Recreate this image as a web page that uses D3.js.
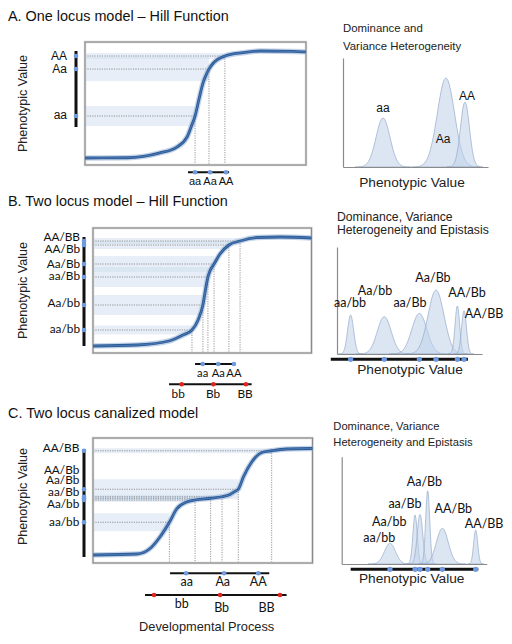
<!DOCTYPE html>
<html><head><meta charset="utf-8">
<script src="https://cdn.jsdelivr.net/npm/d3@7"></script>
<style>body{margin:0;background:#fff}svg{display:block}</style>
</head><body>
<svg id="chart" width="512" height="644"></svg>
<script>
// ================= DATA =================
// Panel A : one locus model
const genotypesA = ["aa", "Aa", "AA"];
const devA = [49.8, 56.1, 63.3];          // developmental position
const phenoA = [39.8, 78.0, 88.6];        // phenotypic value
const spreadA = [8.1, 9.8, 2.4];          // half width of variance band
const curveDevA = [0, 19.0, 33.9, 41.6, 46.2, 48.0, 49.8, 51.6, 53.4, 55.2, 56.1, 57.9, 59.7, 63.3, 71.5, 79.2, 94.1, 100];
const curvePhenoA = [5.7, 5.9, 9.8, 14.6, 22.8, 30.9, 39.8, 53.7, 66.7, 74.8, 78.0, 82.5, 85.4, 88.6, 91.3, 92.7, 92.3, 91.9];
const locusA_A = ["aa", "Aa", "AA"];
const locusADevA = [49.8, 56.6, 63.8];
const densMeanA = [27.6, 71.0, 84.1];
const densSdA = [4.8, 5.9, 3.1];
const densPeakA = [45.0, 81.7, 59.6];

// Panel B : two locus model
const genotypesB = ["aa/bb", "Aa/bb", "aa/Bb", "Aa/Bb", "AA/Bb", "AA/BB"];
const devB = [45.3, 50.3, 52.6, 55.4, 62.2, 67.3];
const phenoB = [18.4, 38.4, 60.8, 71.2, 86.4, 89.6];
const spreadB = [3.6, 8.0, 8.0, 6.4, 3.2, 2.4];
const curveDevB = [0, 20.1, 35.2, 41.2, 45.3, 48.1, 50.3, 51.7, 52.6, 53.5, 55.4, 58.1, 62.2, 67.3, 75.1, 85.6, 100];
const curvePhenoB = [5.6, 6.4, 9.8, 14.4, 18.4, 26.4, 38.4, 52.8, 60.8, 65.6, 71.2, 79.2, 86.4, 89.6, 92.4, 92.8, 92.0];
const locusA_B = ["aa", "Aa", "AA"];
const locusADevB = [50.2, 57.3, 64.5];
const locusB_B = ["bb", "Bb", "BB"];
const locusBDevB = [40.6, 55.1, 70.0];
const densMeanB = [9.4, 32.6, 56.8, 68.3, 83.0, 87.6];
const densSdB = [2.1, 4.8, 5.2, 5.5, 1.6, 1.7];
const densPeakB = [36.4, 34.9, 38.0, 59.8, 44.9, 40.5];

// Panel C : two locus canalized model
const genotypesC = ["aa/bb", "Aa/bb", "aa/Bb", "Aa/Bb", "AA/Bb", "AA/BB"];
const devC = [34.8, 46.5, 53.6, 58.8, 66.2, 81.4];
const phenoC = [32.6, 50.4, 51.8, 53.0, 59.0, 89.8];
const spreadC = [7.2, 1.6, 2.0, 1.6, 8.0, 2.0];
const curveDevC = [0, 20.0, 26.0, 30.5, 34.8, 38.1, 42.7, 46.5, 53.6, 58.8, 62.4, 64.2, 66.2, 68.5, 72.3, 76.9, 81.4, 88.2, 100];
const curvePhenoC = [6.4, 7.2, 11.6, 20.8, 32.6, 43.2, 48.8, 50.4, 51.8, 53.0, 54.8, 56.8, 59.0, 68.8, 80.8, 88.4, 89.8, 91.2, 91.6];
const locusA_C = ["aa", "Aa", "AA"];
const locusADevC = [42.4, 59.7, 75.3];
const locusB_C = ["bb", "Bb", "BB"];
const locusBDevC = [27.8, 57.9, 85.2];
const densMeanC = [33.3, 50.6, 54.0, 59.3, 69.4, 92.4];
const densSdC = [3.8, 1.5, 1.9, 1.4, 4.1, 1.4];
const densPeakC = [19.3, 45.7, 46.3, 68.3, 33.3, 31.7];

// ================= STYLE / LAYOUT =================
const SANS = "'Liberation Sans', Arial, sans-serif";
const HUM = "Lato, 'Open Sans', sans-serif";
const BAND = "#d0def0", CURVE = "#2c5b96", BLUE_DOT = "#6f9ae0", RED_DOT = "#e3231c";
const DENS_FILL = "#bfd1ea", DENS_STROKE = "#94a9c9";

const svg = d3.select("#chart");

function title(txt, x, y) {
  svg.append("text").attr("x", x).attr("y", y).attr("font-family", SANS)
    .attr("font-size", 14.4).attr("fill", "#111").text(txt);
}
title("A. One locus model \u2013 Hill Function", 8, 21);
title("B. Two locus model \u2013 Hill Function", 8, 206);
title("C. Two locus canalized model", 8, 418);

function leftPanel(o) {
  const x = d3.scaleLinear().domain([0, 100]).range([o.box[0], o.box[1]]);
  const y = d3.scaleLinear().domain([0, 100]).range([o.box[3], o.box[2]]);
  const g = svg.append("g");
  // variance bands
  o.geno.forEach((gname, i) => {
    g.append("rect").attr("x", x(0)).attr("width", x(o.dev[i]) - x(0))
      .attr("y", y(o.pheno[i] + o.spread[i])).attr("height", y(o.pheno[i] - o.spread[i]) - y(o.pheno[i] + o.spread[i]))
      .attr("fill", BAND).attr("opacity", 0.5);
  });
  // dotted guides
  o.geno.forEach((gname, i) => {
    g.append("line").attr("x1", x(0)).attr("x2", x(o.dev[i])).attr("y1", y(o.pheno[i])).attr("y2", y(o.pheno[i]))
      .attr("stroke", "#7d7d7d").attr("stroke-width", 0.8).attr("stroke-dasharray", "1.2,1.2");
    g.append("line").attr("x1", x(o.dev[i])).attr("x2", x(o.dev[i])).attr("y1", y(o.pheno[i])).attr("y2", y(0))
      .attr("stroke", "#7d7d7d").attr("stroke-width", 0.8).attr("stroke-dasharray", "1.2,1.2");
  });
  // frame
  g.append("rect").attr("x", x(0)).attr("y", y(100)).attr("width", x(100) - x(0)).attr("height", y(0) - y(100))
    .attr("fill", "none").attr("stroke", "#cfcfcf").attr("stroke-width", 2.4);
  g.append("rect").attr("x", x(0)).attr("y", y(100)).attr("width", x(100) - x(0)).attr("height", y(0) - y(100))
    .attr("fill", "none").attr("stroke", "#8a8a8a").attr("stroke-width", 1);
  // curve
  const pts = o.cx.map((d, i) => [d, o.cy[i]]);
  const line = d3.line().x(d => x(d[0])).y(d => y(d[1])).curve(d3.curveMonotoneX);
  g.append("path").attr("d", line(pts)).attr("fill", "none").attr("stroke", "#9fb8da").attr("stroke-width", 5.5).attr("opacity", 0.6);
  g.append("path").attr("d", line(pts)).attr("fill", "none").attr("stroke", CURVE).attr("stroke-width", 2.8);
  g.append("path").attr("d", line(pts)).attr("fill", "none").attr("stroke", "#4d7cb8").attr("stroke-width", 0.9);
  // phenotype axis
  const ax = x(0) - 9;
  g.append("line").attr("x1", ax).attr("x2", ax).attr("y1", y(o.axisExt[1])).attr("y2", y(o.axisExt[0]))
    .attr("stroke", "#111").attr("stroke-width", 3);
  o.geno.forEach((gname, i) => {
    g.append("circle").attr("cx", ax).attr("cy", y(o.pheno[i])).attr("r", 2.3).attr("fill", BLUE_DOT);
    g.append("text").attr("x", ax - o.labelGap).attr("y", y(o.pheno[i]) + o.labelDy[i])
      .attr("text-anchor", "end").attr("font-family", o.labelFont).attr("font-size", o.labelSize)
      .attr("fill", "#111").text(gname);
  });
  // y title
  g.append("text").attr("transform", `translate(${o.yTitleX},${(y(100) + y(0)) / 2 + o.yTitleShift}) rotate(-90)`)
    .attr("text-anchor", "middle").attr("font-family", SANS).attr("font-size", 12.6).attr("fill", "#222")
    .text("Phenotypic Value");
  // allele axes below
  o.rows.forEach(r => {
    const yy = y(0) + r.dy;
    g.append("line").attr("x1", x(r.ext[0])).attr("x2", x(r.ext[1])).attr("y1", yy).attr("y2", yy)
      .attr("stroke", "#111").attr("stroke-width", 2);
    r.dev.forEach((d, i) => {
      g.append("circle").attr("cx", x(d)).attr("cy", yy).attr("r", 2.3).attr("fill", r.color);
      g.append("text").attr("x", x(r.labelDev ? r.labelDev[i] : d)).attr("y", yy + r.labelDy[i])
        .attr("text-anchor", "middle").attr("font-family", r.font).attr("font-size", r.size).attr("fill", "#111")
        .text(r.names[i]);
    });
  });
  if (o.xTitle) {
    g.append("text").attr("x", x(o.xTitle.at)).attr("y", y(0) + o.xTitle.dy).attr("text-anchor", "middle")
      .attr("font-family", SANS).attr("font-size", 12.8).attr("fill", "#222").text("Developmental Process");
  }
}

function densityPanel(o) {
  const x = d3.scaleLinear().domain([0, 100]).range([o.x0, o.x1]);
  const y = d3.scaleLinear().domain([0, 100]).range([o.base, o.top]);
  const g = svg.append("g");
  o.titleLines.forEach((t, i) => {
    g.append("text").attr("x", o.x0 + o.titleDx).attr("y", o.titleY[i]).attr("font-family", SANS)
      .attr("font-size", o.titleSize).attr("fill", "#222").text(t);
  });
  const area = d3.area().x(d => x(d[0])).y0(y(0)).y1(d => y(d[1])).curve(d3.curveBasis);
  o.mean.forEach((m, i) => {
    const pts = d3.range(-4, 4.001, 0.1).map(k => [m + k * o.sd[i], o.peak[i] * Math.exp(-0.5 * k * k)]);
    g.append("path").attr("d", area(pts)).attr("fill", DENS_FILL).attr("fill-opacity", 0.55)
      .attr("stroke", DENS_STROKE).attr("stroke-width", 0.7);
  });
  // axes
  g.append("g").attr("transform", `translate(0,${y(0)})`)
    .call(d3.axisBottom(x).tickValues([]).tickSizeOuter(0))
    .call(s => s.select(".domain").attr("stroke", "#8a8a8a").attr("stroke-width", 1.2));
  g.append("g").attr("transform", `translate(${x(0)},0)`)
    .call(d3.axisLeft(y).tickValues([]).tickSizeOuter(0))
    .call(s => s.select(".domain").attr("stroke", "#8a8a8a").attr("stroke-width", 1.2));
  // labels
  o.names.forEach((n, i) => {
    g.append("text").attr("x", x(o.labelAt[i][0])).attr("y", y(o.labelAt[i][1])).attr("text-anchor", "middle")
      .attr("font-family", o.labelFont).attr("font-size", o.labelSize).attr("fill", "#111").text(n);
  });
  if (o.rug) {
    const yy = y(0) + o.rug.dy;
    g.append("line").attr("x1", x(o.rug.ext[0])).attr("x2", x(o.rug.ext[1])).attr("y1", yy).attr("y2", yy)
      .attr("stroke", "#111").attr("stroke-width", 3);
    o.mean.forEach(m => g.append("circle").attr("cx", x(m)).attr("cy", yy).attr("r", 2.6).attr("fill", BLUE_DOT));
  }
  g.append("text").attr("x", o.xTitleX).attr("y", y(0) + o.xTitleDy).attr("text-anchor", "middle")
    .attr("font-family", SANS).attr("font-size", 13.7).attr("fill", "#222").text("Phenotypic Value");
}

// ---------- Panel A ----------
leftPanel({
  box: [85, 306, 42, 165], geno: genotypesA, dev: devA, pheno: phenoA, spread: spreadA,
  cx: curveDevA, cy: curvePhenoA, axisExt: [30.9, 92.7], labelGap: 9, labelDy: [2.5, 4.3, 4],
  labelFont: SANS, labelSize: 12, yTitleX: 27, yTitleShift: 0,
  rows: [{ dy: 7.3, ext: [46.6, 65.2], dev: locusADevA, names: locusA_A, color: BLUE_DOT, labelDy: [12.7, 12.7, 12.7], font: SANS, size: 11 }]
});
densityPanel({
  x0: 343, x1: 488, top: 58, base: 167, titleDx: 0, titleY: [32, 50], titleSize: 11.4,
  titleLines: ["Dominance and", "Variance Heterogeneity"],
  mean: densMeanA, sd: densSdA, peak: densPeakA, names: genotypesA,
  labelAt: [[27.6, 50.5], [69.0, 22.0], [85.5, 61.5]], labelFont: SANS, labelSize: 12,
  xTitleX: 412, xTitleDy: 20
});

// ---------- Panel B ----------
leftPanel({
  box: [93, 311.5, 228, 353], geno: genotypesB, dev: devB, pheno: phenoB, spread: spreadB,
  cx: curveDevB, cy: curvePhenoB, axisExt: [5.6, 92.8], labelGap: 4, labelDy: [3, 2, 3, 4, 7.5, 0],
  labelFont: HUM, labelSize: 11.8, yTitleX: 27, yTitleShift: 0,
  rows: [
    { dy: 11, ext: [46.7, 65.3], dev: locusADevB, names: locusA_B, color: BLUE_DOT, labelDy: [12.7, 12.7, 12.7], font: HUM, size: 11.2 },
    { dy: 31.3, ext: [34.8, 72.6], dev: locusBDevB, labelDev: [39.0, 54.9, 69.6], names: locusB_B, color: RED_DOT, labelDy: [13.7, 13.7, 13.7], font: HUM, size: 11.8 }
  ]
});
densityPanel({
  x0: 337, x1: 482, top: 247, base: 354, titleDx: 0, titleY: [220.5, 234], titleSize: 12.2,
  titleLines: ["Dominance, Variance", "Heterogeneity and Epistasis"],
  mean: densMeanB, sd: densSdB, peak: densPeakB, names: genotypesB,
  labelAt: [[9.0, 43.9], [26.2, 55.4], [50.3, 43.9], [66.2, 67.6], [89.7, 53.3], [101.4, 33.4]],
  labelFont: HUM, labelSize: 12.5, rug: { dy: 5.3, ext: [-4.3, 90.3] },
  xTitleX: 410, xTitleDy: 19.5
});

// ---------- Panel C ----------
leftPanel({
  box: [93, 312.5, 438, 563], geno: genotypesC, dev: devC, pheno: phenoC, spread: spreadC,
  cx: curveDevC, cy: curvePhenoC, axisExt: [4.8, 91.2], labelGap: 4.7, labelDy: [3.7, 8, -2.6, -13.2, -15.6, 1.5],
  labelFont: HUM, labelSize: 11.8, yTitleX: 27, yTitleShift: -4,
  rows: [
    { dy: 10.3, ext: [35.1, 80.3], dev: locusADevC, labelDev: [42.7, 59.1, 75.3], names: locusA_C, color: BLUE_DOT, labelDy: [12.7, 12.7, 12.7], font: HUM, size: 12.5 },
    { dy: 32, ext: [23.7, 88.2], dev: locusBDevC, labelDev: [40.4, 58.6, 79.1], names: locusB_C, color: RED_DOT, labelDy: [13.3, 16.7, 16.7], font: HUM, size: 12.5 }
  ],
  xTitle: { at: 51.8, dy: 67.7 }
});
densityPanel({
  x0: 341.7, x1: 486.7, top: 456.7, base: 564, titleDx: -8.4, titleY: [430, 446], titleSize: 11.2,
  titleLines: ["Dominance, Variance", "Heterogeneity and Epistasis"],
  mean: densMeanC, sd: densSdC, peak: densPeakC, names: genotypesC,
  labelAt: [[25.9, 20.8], [32.8, 35.4], [43.6, 51.9], [57.0, 73.0], [77.0, 47.3], [98.2, 33.3]],
  labelFont: HUM, labelSize: 12.5, rug: { dy: 5.3, ext: [6.2, 94.2] },
  xTitleX: 411.7, xTitleDy: 19.3
});
</script>
</body></html>
